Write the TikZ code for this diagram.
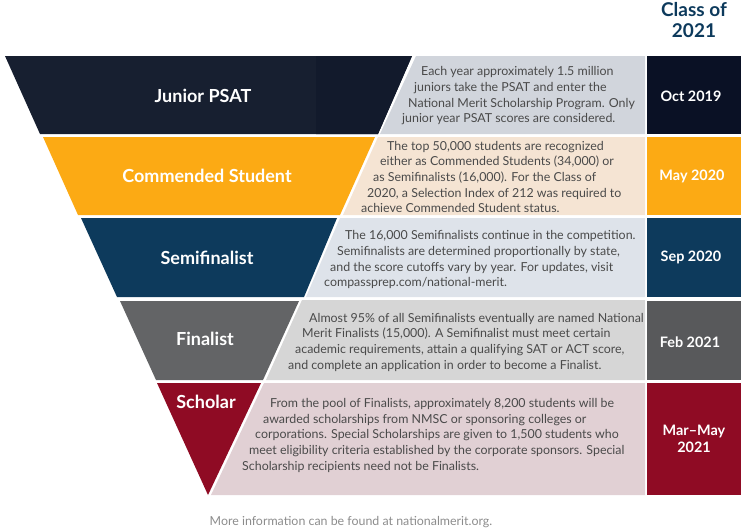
\documentclass[tikz,border=0pt]{standalone}
\usepackage{fontspec}
\setmainfont{Lato}
\definecolor{navy}{HTML}{171F30}
\definecolor{navydark}{HTML}{0A1125}
\definecolor{amber}{HTML}{FCAA14}
\definecolor{deepblue}{HTML}{0D3A5C}
\definecolor{slate}{HTML}{636466}
\definecolor{slatedark}{HTML}{58595B}
\definecolor{crimson}{HTML}{8F0B24}
\definecolor{panelnavy}{HTML}{D1D5DC}
\definecolor{panelamber}{HTML}{F5E4D3}
\definecolor{panelblue}{HTML}{DEE3EA}
\definecolor{panelslate}{HTML}{D6D6D6}
\definecolor{panelcrimson}{HTML}{E1D0D4}
\definecolor{bodytext}{HTML}{4A4A4A}
\tikzset{
	stagelabel/.style={text=white,font=\fontsize{18}{20}\selectfont\bfseries},
	datelabel/.style={text=white,font=\fontsize{14.4}{17.5}\selectfont\bfseries,align=center},
	bodyline/.style={text=bodytext,anchor=base west,inner sep=0pt,font=\fontsize{12.4}{15}\selectfont},
	classlabel/.style={text=deepblue,font=\fontsize{19}{21}\selectfont\bfseries,align=center},
	footlabel/.style={text=black!45,font=\fontsize{12.4}{15}\selectfont}
}
\begin{document}
\begin{tikzpicture}[x=1pt,y=-1pt]
	\useasboundingbox (0,0) rectangle (745,531);
	% funnel
	\fill[navy] (5,56)--(412,56)--(378,134)--(40,134)--cycle;
	\fill[navydark!35!navy] (316,56)--(412,56)--(378,134)--(316,134)--cycle;
	\fill[amber] (43,137)--(375,137)--(340,215)--(78,215)--cycle;
	\fill[deepblue] (81,218)--(337,218)--(304,297)--(117,297)--cycle;
	\fill[slate] (120,301)--(299,301)--(263,380)--(156,380)--cycle;
	\fill[crimson] (157,383)--(261,383)--(208,495)--cycle;
	% panels
	\fill[panelnavy] (416,56)--(645,56)--(645,134)--(380,134)--cycle;
	\fill[panelamber] (378,137)--(645,137)--(645,215)--(343,215)--cycle;
	\fill[panelblue] (340,218)--(645,218)--(645,297)--(306,297)--cycle;
	\fill[panelslate] (302,300)--(645,300)--(645,380)--(266,380)--cycle;
	\fill[panelcrimson] (264,383)--(645,383)--(645,495)--(211,495)--cycle;
	% dates
	\fill[navydark] (647,56) rectangle (741,134);
	\fill[amber] (647,137) rectangle (741,215);
	\fill[deepblue] (647,218) rectangle (741,297);
	\fill[slatedark] (647,301) rectangle (741,380);
	\fill[crimson] (647,383) rectangle (741,495);
	% labels
	\node[classlabel] (classhead) at (694,20) {Class of\\2021};
	\node[stagelabel] (junior) at (203,96) {Junior PSAT};
	\node[stagelabel] (commended) at (207,175.5) {Commended Student};
	\node[stagelabel] (semi) at (207,258) {Semifinalist};
	\node[stagelabel] (finalist) at (205,339) {Finalist};
	\node[stagelabel] (scholar) at (206,402) {Scholar};
	\node[datelabel] (oct) at (691,96) {Oct 2019};
	\node[datelabel] (may) at (692,176) {May 2020};
	\node[datelabel] (sep) at (691,257) {Sep 2020};
	\node[datelabel] (feb) at (690,342) {Feb 2021};
	\node[datelabel] (mar) at (694,439) {Mar--May\\2021};
	% text, line by line along the slant
	\foreach \px/\py/\nm/\txt in {
		421/75.5/a1/{Each year approximately 1.5 million},
		414/91/a2/{juniors take the PSAT and enter the},
		408/107/a3/{National Merit Scholarship Program. Only},
		402/122.5/a4/{junior year PSAT scores are considered.},
		387/150.5/b1/{The top 50,000 students are recognized},
		380/165.5/b2/{either as Commended Students (34,000) or},
		373/181.5/b3/{as Semifinalists (16,000). For the Class of},
		367/197.5/b4/{2020, a Selection Index of 212 was required to},
		361/212.5/b5/{achieve Commended Student status.},
		345/239.5/c1/{The 16,000 Semifinalists continue in the competition.},
		337/255.5/c2/{Semifinalists are determined proportionally by state,},
		330/271.5/c3/{and the score cutoffs vary by year. For updates, visit},
		324/286.5/c4/{compassprep.com/national-merit.},
		309/322.5/d1/{Almost 95\% of all Semifinalists eventually are named National},
		302/337.5/d2/{Merit Finalists (15,000). A Semifinalist must meet certain},
		295/353.5/d3/{academic requirements, attain a qualifying SAT or ACT score,},
		288/369.5/d4/{and complete an application in order to become a Finalist.},
		270/407.5/e1/{From the pool of Finalists, approximately 8,200 students will be},
		263/423.5/e2/{awarded scholarships from NMSC or sponsoring colleges or},
		255/438.5/e3/{corporations. Special Scholarships are given to 1,500 students who},
		249/454.5/e4/{meet eligibility criteria established by the corporate sponsors. Special},
		242/470.5/e5/{Scholarship recipients need not be Finalists.}}
		\node[bodyline] (\nm) at (\px,\py) {\txt};
	\node[footlabel] (foot) at (351,522) {More information can be found at nationalmerit.org.};
\end{tikzpicture}
\end{document}
